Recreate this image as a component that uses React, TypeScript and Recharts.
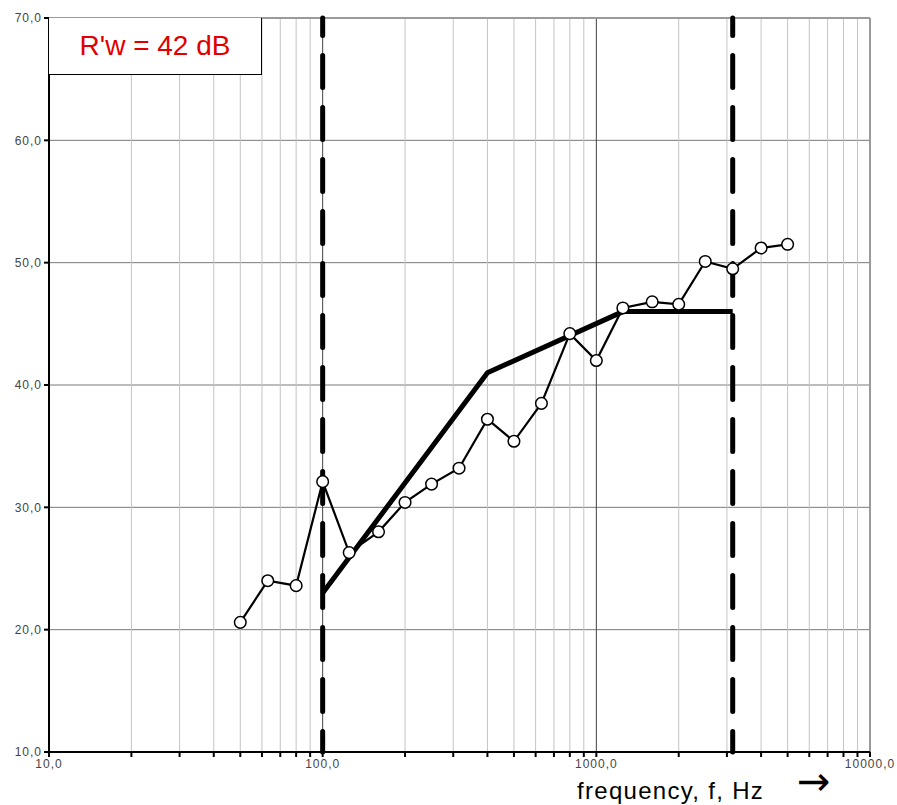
import {
  LineChart,
  Line,
  XAxis,
  YAxis,
  CartesianGrid,
  ReferenceLine,
} from "recharts";

// one-third octave bands, measured R' (dB)
const bands = [50, 63, 80, 100, 125, 160, 200, 250, 315, 400, 500, 630, 800, 1000, 1250, 1600, 2000, 2500, 3150, 4000, 5000];
const measured = [20.6, 24.0, 23.6, 32.1, 26.3, 28.0, 30.4, 31.9, 33.2, 37.2, 35.4, 38.5, 44.2, 42.0, 46.3, 46.8, 46.6, 50.1, 49.5, 51.2, 51.5];

// shifted reference curve (100..3150 Hz)
const refBands = [100, 400, 1250, 3150];
const refValues = [23, 41, 46, 46];

const decadeTicks = [10, 100, 1000, 10000];
const minorTicks = [20, 30, 40, 50, 60, 70, 80, 90, 200, 300, 400, 500, 600, 700, 800, 900, 2000, 3000, 4000, 5000, 6000, 7000, 8000, 9000];
const yTicks = [10, 20, 30, 40, 50, 60, 70];
const limitLines = [100, 3150];

const measuredData = bands.map((f, i) => ({ f, r: measured[i] }));
const refData = refBands.map((f, i) => ({ f, r: refValues[i] }));
const allTicks = [...decadeTicks, ...minorTicks].sort((a, b) => a - b);

const fmt = (v: number) => v.toFixed(1).replace(".", ",");
const font = "'Liberation Sans', Arial, sans-serif";

export default function App() {
  return (
    <div style={{ position: "absolute", left: 0, top: 0, width: 897, height: 805, fontFamily: font, overflow: "hidden" }}>
      <LineChart width={897} height={805} margin={{ top: 18, right: 27, bottom: 23, left: 9 }}>
        <CartesianGrid horizontal vertical={false} stroke="#7a7a7a" strokeWidth={1} />
        {minorTicks.map((v) => (
          <ReferenceLine key={"m" + v} x={v} stroke="#c4c4c4" strokeWidth={1} />
        ))}
        <ReferenceLine x={100} stroke="#404040" strokeWidth={1} />
        <ReferenceLine x={1000} stroke="#404040" strokeWidth={1} />
        <ReferenceLine x={10000} stroke="#9a9a9a" strokeWidth={2} />
        <ReferenceLine y={70} stroke="#9a9a9a" strokeWidth={2} />
        <XAxis
          type="number"
          dataKey="f"
          scale="log"
          domain={[10, 10000]}
          allowDataOverflow
          ticks={allTicks}
          interval={0}
          tickFormatter={(v: number) => (decadeTicks.includes(v) ? fmt(v) : "")}
          tick={{ fill: "#444", fontSize: 12, letterSpacing: 1, fontFamily: font }}
          tickSize={5}
          height={30}
          stroke="#000"
          strokeWidth={2}
        />
        <YAxis
          type="number"
          domain={[10, 70]}
          ticks={yTicks}
          interval={0}
          tickFormatter={fmt}
          tick={{ fill: "#444", fontSize: 12, letterSpacing: 1, fontFamily: font }}
          tickSize={5}
          width={40}
          stroke="#000"
          strokeWidth={2}
        />
        {limitLines.map((v) => (
          <ReferenceLine
            key={"l" + v}
            segment={[{ x: v, y: 70 }, { x: v, y: 10 }]}
            stroke="#000"
            strokeWidth={5}
            strokeDasharray="32 20"
            strokeDashoffset={14.5}
            strokeLinecap="round"
          />
        ))}
        <Line
          data={refData}
          dataKey="r"
          stroke="#000"
          strokeWidth={5}
          dot={false}
          isAnimationActive={false}
        />
        <Line
          data={measuredData}
          dataKey="r"
          stroke="#000"
          strokeWidth={2.2}
          dot={{ r: 5.8, fill: "#fff", stroke: "#000", strokeWidth: 1.5 }}
          isAnimationActive={false}
        />
      </LineChart>
      <div
        style={{
          position: "absolute",
          left: 49,
          top: 18,
          width: 212,
          height: 56,
          background: "#fff",
          border: "1px solid #000",
          borderLeft: "none",
          borderTop: "none",
          color: "#e00000",
          fontSize: 28,
          lineHeight: "56px",
          textAlign: "center",
        }}
      >
        R'w = 42 dB
      </div>
      <div
        style={{
          position: "absolute",
          left: 577,
          top: 778,
          fontSize: 24,
          letterSpacing: 1.3,
          color: "#000",
          whiteSpace: "pre",
          lineHeight: "26px",
        }}
      >
        frequency, f, Hz
      </div>
      <div
        style={{
          position: "absolute",
          left: 797,
          top: 758,
          fontSize: 40,
          fontFamily: "'DejaVu Sans', sans-serif",
          color: "#000",
        }}
      >
        {"\u2192"}
      </div>
    </div>
  );
}
